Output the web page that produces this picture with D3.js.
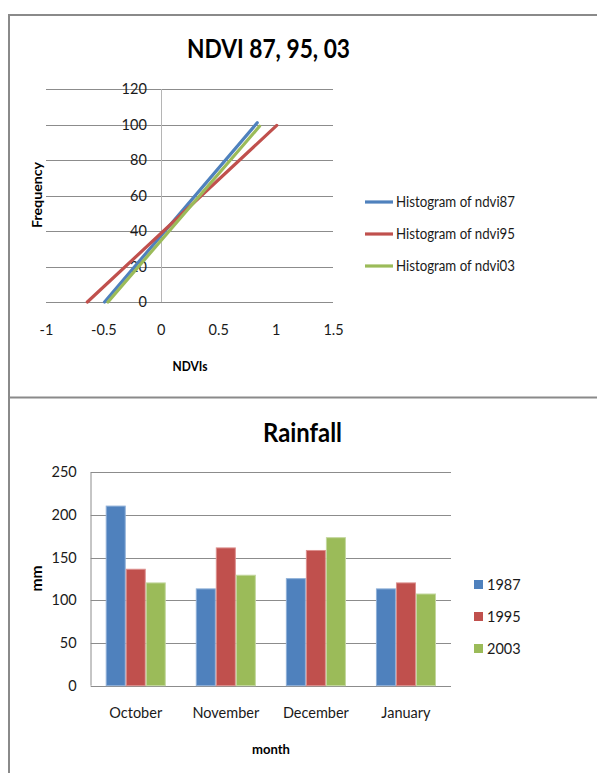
<!DOCTYPE html>
<html>
<head>
<meta charset="utf-8">
<script src="https://cdn.jsdelivr.net/npm/d3@7"></script>
<style>
  html, body { margin: 0; padding: 0; background: #fff; }
  svg { display: block; font-family: Lato, "Open Sans", sans-serif; }
</style>
</head>
<body>
<svg id="page" width="597" height="773"></svg>
<script>
// ---- NDVI frequency lines ----
const ndviSeries = ["Histogram of ndvi87", "Histogram of ndvi95", "Histogram of ndvi03"];
const ndvi87 = [{x: -0.49, y: 0}, {x: 0.84, y: 101}];
const ndvi95 = [{x: -0.64, y: 0}, {x: 1.01, y: 99.5}];
const ndvi03 = [{x: -0.46, y: 0}, {x: 0.86, y: 99}];
const ndviXTicks = [-1, -0.5, 0, 0.5, 1, 1.5];
const ndviYTicks = [0, 20, 40, 60, 80, 100, 120];

// ---- Rainfall bars ----
const months = ["October", "November", "December", "January"];
const years = ["1987", "1995", "2003"];
const rain1987 = [211, 114, 126, 114];
const rain1995 = [137, 162, 159, 121];
const rain2003 = [121, 130, 174, 108];
const rainYTicks = [0, 50, 100, 150, 200, 250];

const colors = ["#4F81BD", "#C0504D", "#9BBB59"];
const edgeColors = ["#8FB0D8", "#DC8F8D", "#C3D79E"];
const gridColor = "#8C8C8C";
const textColor = "#1a1a1a";

const svg = d3.select("#page");

// panel frames
svg.append("path")
  .attr("d", "M9,398 V15 H597")
  .attr("fill", "none").attr("stroke", "#8a8a8a").attr("stroke-width", 2);
svg.append("path")
  .attr("d", "M9,773 V397.5 H597")
  .attr("fill", "none").attr("stroke", "#8a8a8a").attr("stroke-width", 2);

// condensed title helper (narrow, Calibri-like proportions)
function title(g, x, y, txt, width, size) {
  return g.append("text")
    .attr("x", x).attr("y", y)
    .attr("text-anchor", "middle")
    .attr("font-size", size).attr("font-weight", "bold").attr("fill", "#000")
    .attr("textLength", width).attr("lengthAdjust", "spacingAndGlyphs")
    .text(txt);
}

// ===== NDVI chart =====
const ndviG = svg.append("g");
const x1 = d3.scaleLinear().domain([-1, 1.5]).range([46, 333]);
const y1 = d3.scaleLinear().domain([0, 120]).range([302, 89]);

title(ndviG, 268.5, 58, "NDVI 87, 95, 03", 163, 27);

// horizontal gridlines
ndviG.append("g").selectAll("line").data(ndviYTicks).join("line")
  .attr("x1", x1(-1)).attr("x2", x1(1.5))
  .attr("y1", d => Math.round(y1(d)) + 0.5).attr("y2", d => Math.round(y1(d)) + 0.5)
  .attr("stroke", gridColor).attr("stroke-width", 1);

// vertical axis at x = 0
ndviG.append("line")
  .attr("x1", Math.round(x1(0)) + 0.5).attr("x2", Math.round(x1(0)) + 0.5)
  .attr("y1", y1(120)).attr("y2", y1(0))
  .attr("stroke", "#b5b5b5").attr("stroke-width", 1);

// y tick labels next to the x = 0 axis
const yAx1 = ndviG.append("g")
  .attr("transform", `translate(${x1(0)},0)`)
  .call(d3.axisLeft(y1).tickValues(ndviYTicks).tickSize(0).tickPadding(14).tickFormat(d3.format("d")));
yAx1.select(".domain").remove();
yAx1.selectAll("text").attr("font-size", 14.5).attr("fill", textColor).attr("font-family", "Lato, sans-serif");

// x tick labels
const xAx1 = ndviG.append("g")
  .attr("transform", `translate(0,${y1(0)})`)
  .call(d3.axisBottom(x1).tickValues(ndviXTicks).tickSize(0).tickPadding(23).tickFormat(d => String(d)));
xAx1.select(".domain").remove();
xAx1.selectAll("text").attr("font-size", 14.5).attr("fill", textColor).attr("font-family", "Lato, sans-serif");

// axis titles
ndviG.append("text")
  .attr("transform", "translate(42,195) rotate(-90)")
  .attr("text-anchor", "middle")
  .attr("font-size", 14).attr("font-weight", "bold").attr("fill", "#000")
  .attr("textLength", 66).attr("lengthAdjust", "spacingAndGlyphs")
  .text("Frequency");
ndviG.append("text")
  .attr("x", 190).attr("y", 371)
  .attr("text-anchor", "middle")
  .attr("font-size", 14).attr("font-weight", "bold").attr("fill", "#000")
  .attr("textLength", 35).attr("lengthAdjust", "spacingAndGlyphs")
  .text("NDVIs");

// series lines
const line = d3.line().x(d => x1(d.x)).y(d => y1(d.y));
const ndviData = [ndvi87, ndvi95, ndvi03];
ndviG.append("g").selectAll("path").data(ndviData).join("path")
  .attr("d", line)
  .attr("fill", "none")
  .attr("stroke", (d, i) => colors[i])
  .attr("stroke-width", 3.2)
  .attr("stroke-linecap", "round");

// legend
const leg1 = ndviG.append("g").selectAll("g").data(ndviSeries).join("g")
  .attr("transform", (d, i) => `translate(365,${202 + i * 32})`);
leg1.append("line")
  .attr("x1", 0).attr("x2", 28).attr("y1", 0).attr("y2", 0)
  .attr("stroke", (d, i) => colors[i]).attr("stroke-width", 3.2);
leg1.append("text")
  .attr("x", 31).attr("y", 0).attr("dy", "0.35em")
  .attr("font-size", 14.5).attr("fill", textColor)
  .attr("textLength", 119).attr("lengthAdjust", "spacingAndGlyphs")
  .text(d => d);

// ===== Rainfall chart =====
const rainG = svg.append("g");
const x0 = d3.scaleBand().domain(months).range([90.7, 451]);
const xs = d3.scaleBand().domain(years).range([0, x0.bandwidth()]).paddingInner(0).paddingOuter(0.75);
const y2 = d3.scaleLinear().domain([0, 250]).range([685.7, 472.3]);

title(rainG, 302.5, 442, "Rainfall", 79, 27);

rainG.append("g").selectAll("line").data(rainYTicks).join("line")
  .attr("x1", 90.7).attr("x2", 451)
  .attr("y1", d => Math.round(y2(d)) + 0.5).attr("y2", d => Math.round(y2(d)) + 0.5)
  .attr("stroke", gridColor).attr("stroke-width", 1);
rainG.append("line")
  .attr("x1", 91).attr("x2", 91).attr("y1", y2(250)).attr("y2", y2(0))
  .attr("stroke", gridColor).attr("stroke-width", 1);

const yAx2 = rainG.append("g")
  .attr("transform", "translate(90.7,0)")
  .call(d3.axisLeft(y2).tickValues(rainYTicks).tickSize(0).tickPadding(14));
yAx2.select(".domain").remove();
yAx2.selectAll("text").attr("font-size", 14.5).attr("fill", textColor).attr("font-family", "Lato, sans-serif");

const xAx2 = rainG.append("g")
  .attr("transform", `translate(0,${y2(0)})`)
  .call(d3.axisBottom(x0).tickSize(0).tickPadding(22));
xAx2.select(".domain").remove();
xAx2.selectAll("text").attr("font-size", 14.5).attr("fill", textColor).attr("font-family", "Lato, sans-serif");

rainG.append("text")
  .attr("transform", "translate(42,578.5) rotate(-90)")
  .attr("text-anchor", "middle")
  .attr("font-size", 15).attr("font-weight", "bold").attr("fill", "#000")
  .attr("textLength", 26).attr("lengthAdjust", "spacingAndGlyphs")
  .text("mm");
rainG.append("text")
  .attr("x", 271).attr("y", 754)
  .attr("text-anchor", "middle")
  .attr("font-size", 14).attr("font-weight", "bold").attr("fill", "#000")
  .attr("textLength", 38).attr("lengthAdjust", "spacingAndGlyphs")
  .text("month");

const rainSeries = [rain1987, rain1995, rain2003];
const barRows = months.map((m, mi) => years.map((yr, si) => ({month: m, year: yr, si, value: rainSeries[si][mi]})));
rainG.append("g").selectAll("g").data(barRows).join("g")
  .attr("transform", d => `translate(${x0(d[0].month)},0)`)
  .selectAll("rect").data(d => d).join("rect")
  .attr("x", d => xs(d.year) + 0.5)
  .attr("width", xs.bandwidth() - 1)
  .attr("y", d => y2(d.value) + 0.5)
  .attr("height", d => y2(0) - y2(d.value) - 0.5)
  .attr("fill", d => colors[d.si])
  .attr("stroke", d => edgeColors[d.si])
  .attr("stroke-width", 1);

const leg2 = rainG.append("g").selectAll("g").data(years).join("g")
  .attr("transform", (d, i) => `translate(474,${584.5 + i * 32})`);
leg2.append("rect")
  .attr("x", 0).attr("y", -4.5).attr("width", 9).attr("height", 9)
  .attr("fill", (d, i) => colors[i]);
leg2.append("text")
  .attr("x", 13).attr("y", 0).attr("dy", "0.35em")
  .attr("font-size", 14.5).attr("fill", textColor)
  .text(d => d);
</script>
</body>
</html>
